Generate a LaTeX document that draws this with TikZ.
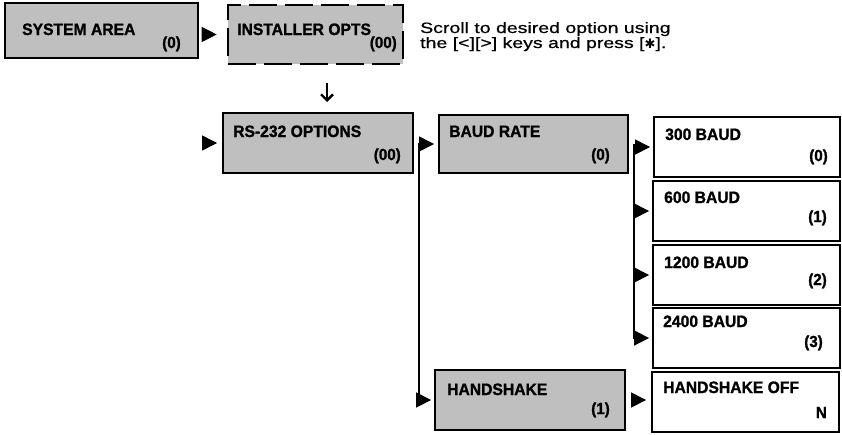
\documentclass[tikz,border=0pt]{standalone}
\usepackage{fontspec}
\setmainfont{Liberation Sans}
\newfontfamily\widefont[FakeStretch=1.3,FakeBold=0.6]{Liberation Sans}
\newfontfamily\boxfont[FakeStretch=0.95,BoldFeatures={FakeBold=1.2}]{Liberation Sans}
\newfontfamily\symfont{DejaVu Sans}
\usetikzlibrary{arrows.meta,calc}
\begin{document}
\begin{tikzpicture}[x=1pt,y=-1pt,
  shaded/.style={draw,line width=1.8pt,fill=black!25,inner sep=0pt},
  plainbox/.style={draw,line width=1.8pt,fill=white,inner sep=0pt},
  ttl/.style={font=\boxfont\bfseries\fontsize{16.5}{18}\selectfont,inner sep=0pt,anchor=base west},
  code/.style={font=\boxfont\bfseries\fontsize{16}{18}\selectfont,inner sep=0pt,anchor=base east},
  notetext/.style={font=\widefont\fontsize{15}{15}\selectfont,inner sep=0pt,anchor=base west},
  tri/.style={line width=1pt,-{Triangle[length=15pt,width=15pt]}},
  bus/.style={line width=1.5pt,-{Triangle[length=15pt,width=15pt]}},
  downarrow/.style={line width=2.4pt,-{Straight Barb[length=6pt,width=12pt]}},
]
\useasboundingbox[fill=white] (0,0) rectangle (842,434);

% boxes
\node[shaded,minimum width=193pt,minimum height=55pt] (sys) at (101.5,30.5) {};
\node[draw,line width=2.6pt,dash pattern=on 28pt off 8pt,fill=black!25,inner sep=0pt,
      minimum width=175pt,minimum height=59pt] (inst) at (315.5,34.5) {};
\node[shaded,minimum width=190pt,minimum height=60pt] (rs) at (318,143) {};
\node[shaded,minimum width=189pt,minimum height=58pt] (baud) at (533.5,144) {};
\node[plainbox,minimum width=186pt,minimum height=60pt] (b300) at (747,147) {};
\node[plainbox,minimum width=187pt,minimum height=60pt] (b600) at (746.5,211) {};
\node[plainbox,minimum width=187pt,minimum height=60pt] (b1200) at (746.5,275) {};
\node[plainbox,minimum width=187pt,minimum height=60pt] (b2400) at (746.5,338) {};
\node[shaded,minimum width=190pt,minimum height=60pt] (hs) at (530,400) {};
\node[plainbox,minimum width=187pt,minimum height=60pt] (hsoff) at (745.5,402) {};

% labels
\node[ttl] (sysT) at (22,35) {SYSTEM AREA};
\node[code] (sysC) at (181,48) {(0)};
\node[ttl] (instT) at (237,35) {INSTALLER OPTS};
\node[code] (instC) at (397,48) {(00)};
\node[ttl] (rsT) at (233,137) {RS-232 OPTIONS};
\node[code] (rsC) at (401,160) {(00)};
\node[ttl] (baudT) at (449,137) {BAUD RATE};
\node[code] (baudC) at (610,160) {(0)};
\node[ttl] (b300T) at (665,140) {300 BAUD};
\node[code] (b300C) at (828,161) {(0)};
\node[ttl] (b600T) at (664,203) {600 BAUD};
\node[code] (b600C) at (827,222) {(1)};
\node[ttl] (b1200T) at (664,268) {1200 BAUD};
\node[code] (b1200C) at (827,285) {(2)};
\node[ttl] (b2400T) at (663,327) {2400 BAUD};
\node[code] (b2400C) at (823,347) {(3)};
\node[ttl] (hsT) at (447,395) {HANDSHAKE};
\node[code] (hsC) at (610,414) {(1)};
\node[ttl] (hsoffT) at (663,393) {HANDSHAKE OFF};
\node[code] (hsoffC) at (827,418) {N};

% note
\node[notetext] (note1) at (420,33) {Scroll to desired option using};
\node[notetext] (note2) at (420,48) {the [<][>] keys and press [{\symfont\fontsize{13}{13}\selectfont ✱}].};

% connectors
\draw[tri] ($(sys.east |- inst.west)+(4,0)$) -- ($(inst.west)+(-10,0)$);
\coordinate (d1) at (327,83);
\coordinate (d2) at (327,102);
\draw[downarrow] (d1) -- (d2);
\coordinate (e0) at (202,143);
\draw[tri] (e0) -- ($(rs.west)+(-5,0)$);

\coordinate (j1) at ($(rs.east)+(5,0)$);
\draw[tri] (j1 |- baud.west) -- ($(baud.west)+(-4,0)$);
\draw[bus] (j1) |- ($(hs.west)+(-3,0)$);

\coordinate (j2) at ($(baud.east)+(5,0)$);
\draw[tri] (j2 |- b300.west) -- ($(b300.west)+(-3,0)$);
\draw[tri] (j2 |- b600.west) -- ($(b600.west)+(-3,0)$);
\draw[tri] (j2 |- b1200.west) -- ($(b1200.west)+(-3,0)$);
\draw[bus] (j2) |- ($(b2400.west)+(-3,0)$);

\draw[tri] ($(hs.east)+(5,0)$) -- ($(hsoff.west |- hs.east)+(-5,0)$);
\end{tikzpicture}
\end{document}
